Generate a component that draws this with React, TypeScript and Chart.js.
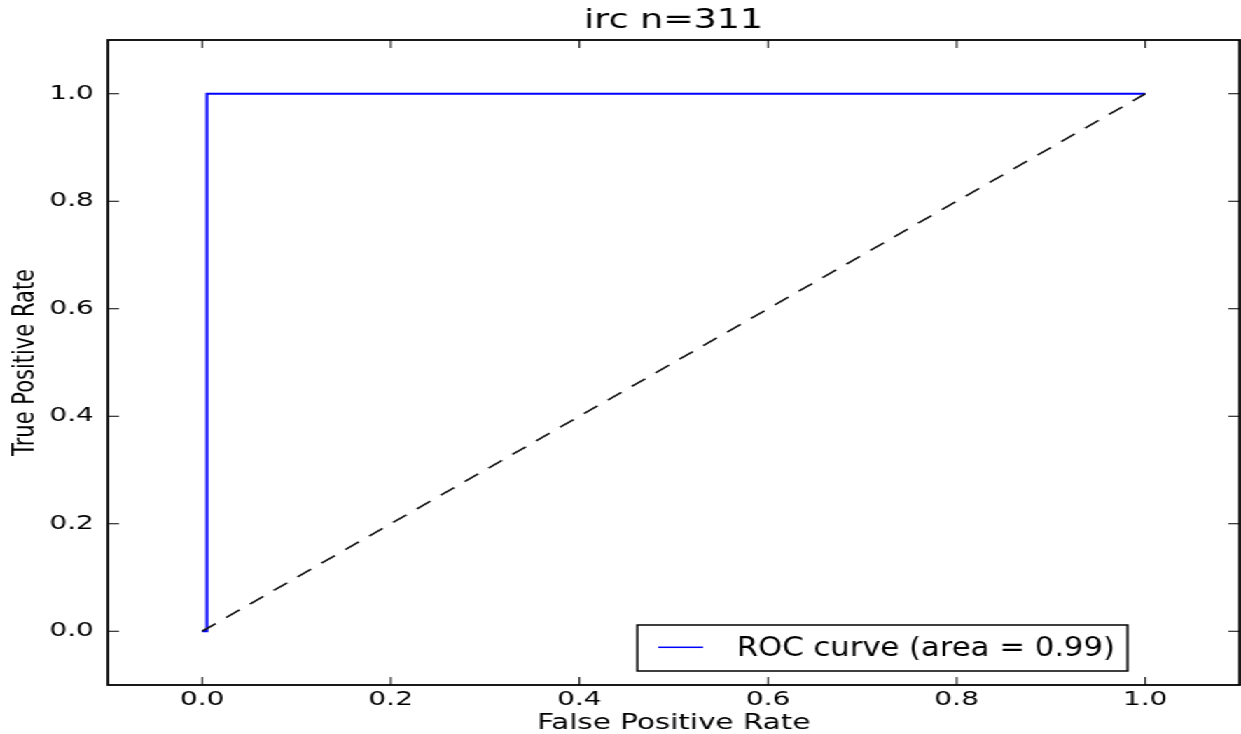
import { useEffect, useRef } from "react";
import { Chart, registerables } from "chart.js";

Chart.register(...registerables);

// ---- data ----
const rocFpr = [0, 0.005, 0.005, 1];
const rocTpr = [0, 0, 1, 1];
const chanceFpr = [0, 1];
const chanceTpr = [0, 1];
const xTickValues = [0, 0.2, 0.4, 0.6, 0.8, 1.0];
const yTickValues = [0, 0.2, 0.4, 0.6, 0.8, 1.0];
const axisMin = -0.1;
const axisMax = 1.1;
const titleText = "irc n=311";
const legendLabel = "ROC curve (area = 0.99)";
const xTitle = "False Positive Rate";
const yTitle = "True Positive Rate";

// ---- layout / style ----
const W = 886;
const H = 734;
const STRETCH = 1241 / W;
const FONT = "'DejaVu Sans', 'Liberation Sans', sans-serif";

const framePlugin = {
  id: "mplFrame",
  afterDatasetsDraw(chart: any) {
    const { ctx, chartArea: a, scales } = chart;
    const xs = scales.x;
    const ys = scales.y;
    ctx.save();
    // inward ticks on all four sides
    ctx.strokeStyle = "#000";
    ctx.lineWidth = 1;
    ctx.beginPath();
    for (const t of xs.ticks) {
      const px = xs.getPixelForValue(t.value);
      ctx.moveTo(px, a.bottom);
      ctx.lineTo(px, a.bottom - 8);
      ctx.moveTo(px, a.top);
      ctx.lineTo(px, a.top + 8);
    }
    for (const t of ys.ticks) {
      const py = ys.getPixelForValue(t.value);
      ctx.moveTo(a.left, py);
      ctx.lineTo(a.left + 8, py);
      ctx.moveTo(a.right, py);
      ctx.lineTo(a.right - 8, py);
    }
    ctx.stroke();
    // frame
    ctx.lineWidth = 1.8;
    ctx.strokeRect(a.left, a.top, a.right - a.left, a.bottom - a.top);

    // legend box (lower right, inside axes)
    const bl = 455, br = 805, bt = 625, bb = 671;
    ctx.fillStyle = "#fff";
    ctx.fillRect(bl, bt, br - bl, bb - bt);
    ctx.lineWidth = 1.5;
    ctx.strokeStyle = "#000";
    ctx.strokeRect(bl, bt, br - bl, bb - bt);
    const ds = chart.data.datasets[0];
    ctx.strokeStyle = ds.borderColor;
    ctx.lineWidth = 1.5;
    ctx.beginPath();
    ctx.moveTo(470, 647.3);
    ctx.lineTo(502, 647.3);
    ctx.stroke();
    ctx.fillStyle = "#000";
    ctx.font = `26px ${FONT}`;
    ctx.textAlign = "left";
    ctx.textBaseline = "alphabetic";
    const lw = ctx.measureText(ds.label).width;
    ctx.save();
    ctx.translate(526, 656);
    ctx.scale(270 / lw, 1);
    ctx.fillText(ds.label, 0, 0);
    ctx.restore();

    // title centred over the axes
    ctx.font = `26px ${FONT}`;
    ctx.textAlign = "center";
    ctx.textBaseline = "alphabetic";
    ctx.fillText(titleText, (a.left + a.right) / 2, 28);
    ctx.restore();
  },
};

export default function App() {
  const ref = useRef<HTMLCanvasElement | null>(null);

  useEffect(() => {
    if (!ref.current) return;
    const chart = new Chart(ref.current, {
      type: "line",
      data: {
        datasets: [
          {
            label: legendLabel,
            data: rocFpr.map((x, i) => ({ x, y: rocTpr[i] })),
            borderColor: "#0000ff",
            borderWidth: 2,
            pointRadius: 0,
            fill: false,
            tension: 0,
            order: 1,
          },
          {
            label: "chance",
            data: chanceFpr.map((x, i) => ({ x, y: chanceTpr[i] })),
            borderColor: "#111",
            borderWidth: 1.6,
            borderDash: [12.3, 9.5],
            pointRadius: 0,
            fill: false,
            tension: 0,
            order: 0,
          },
        ],
      },
      options: {
        animation: false,
        responsive: false,
        devicePixelRatio: 1,
        layout: { padding: { top: 40, right: 1, left: 0, bottom: 0 } },
        plugins: {
          legend: { display: false },
          title: { display: false },
          tooltip: { enabled: false },
        },
        scales: {
          x: {
            type: "linear",
            min: axisMin,
            max: axisMax,
            grid: { display: false, drawTicks: false },
            border: { display: false },
            ticks: {
              font: { family: FONT, size: 20 },
              color: "#000",
              padding: 3,
              autoSkip: false,
              maxRotation: 0,
              callback: (v: any) => Number(v).toFixed(1),
            },
            afterBuildTicks: (s: any) => {
              s.ticks = xTickValues.map((v) => ({ value: v }));
            },
            afterFit: (s: any) => {
              s.height = 49;
            },
            title: {
              display: true,
              text: xTitle,
              color: "#000",
              font: { family: FONT, size: 21, lineHeight: 1 },
              padding: { top: 0, bottom: 0 },
            },
          },
          y: {
            type: "linear",
            min: axisMin,
            max: axisMax,
            grid: { display: false, drawTicks: false },
            border: { display: false },
            ticks: {
              font: { family: FONT, size: 20 },
              color: "#000",
              padding: 10,
              autoSkip: false,
              callback: (v: any) => Number(v).toFixed(1),
            },
            afterBuildTicks: (s: any) => {
              s.ticks = yTickValues.map((v) => ({ value: v }));
            },
            afterFit: (s: any) => {
              s.width = 77;
            },
            title: {
              display: true,
              text: yTitle,
              color: "#000",
              font: { family: FONT, size: 21, lineHeight: 1 },
              padding: { top: 8.4, bottom: 0 },
            },
          },
        },
      },
      plugins: [framePlugin],
    });
    return () => chart.destroy();
  }, []);

  return (
    <div
      style={{
        position: "absolute",
        left: 0,
        top: 0,
        width: W,
        height: H,
        transform: `scaleX(${STRETCH})`,
        transformOrigin: "0 0",
        background: "#fff",
      }}
    >
      <canvas ref={ref} width={W} height={H} />
    </div>
  );
}
